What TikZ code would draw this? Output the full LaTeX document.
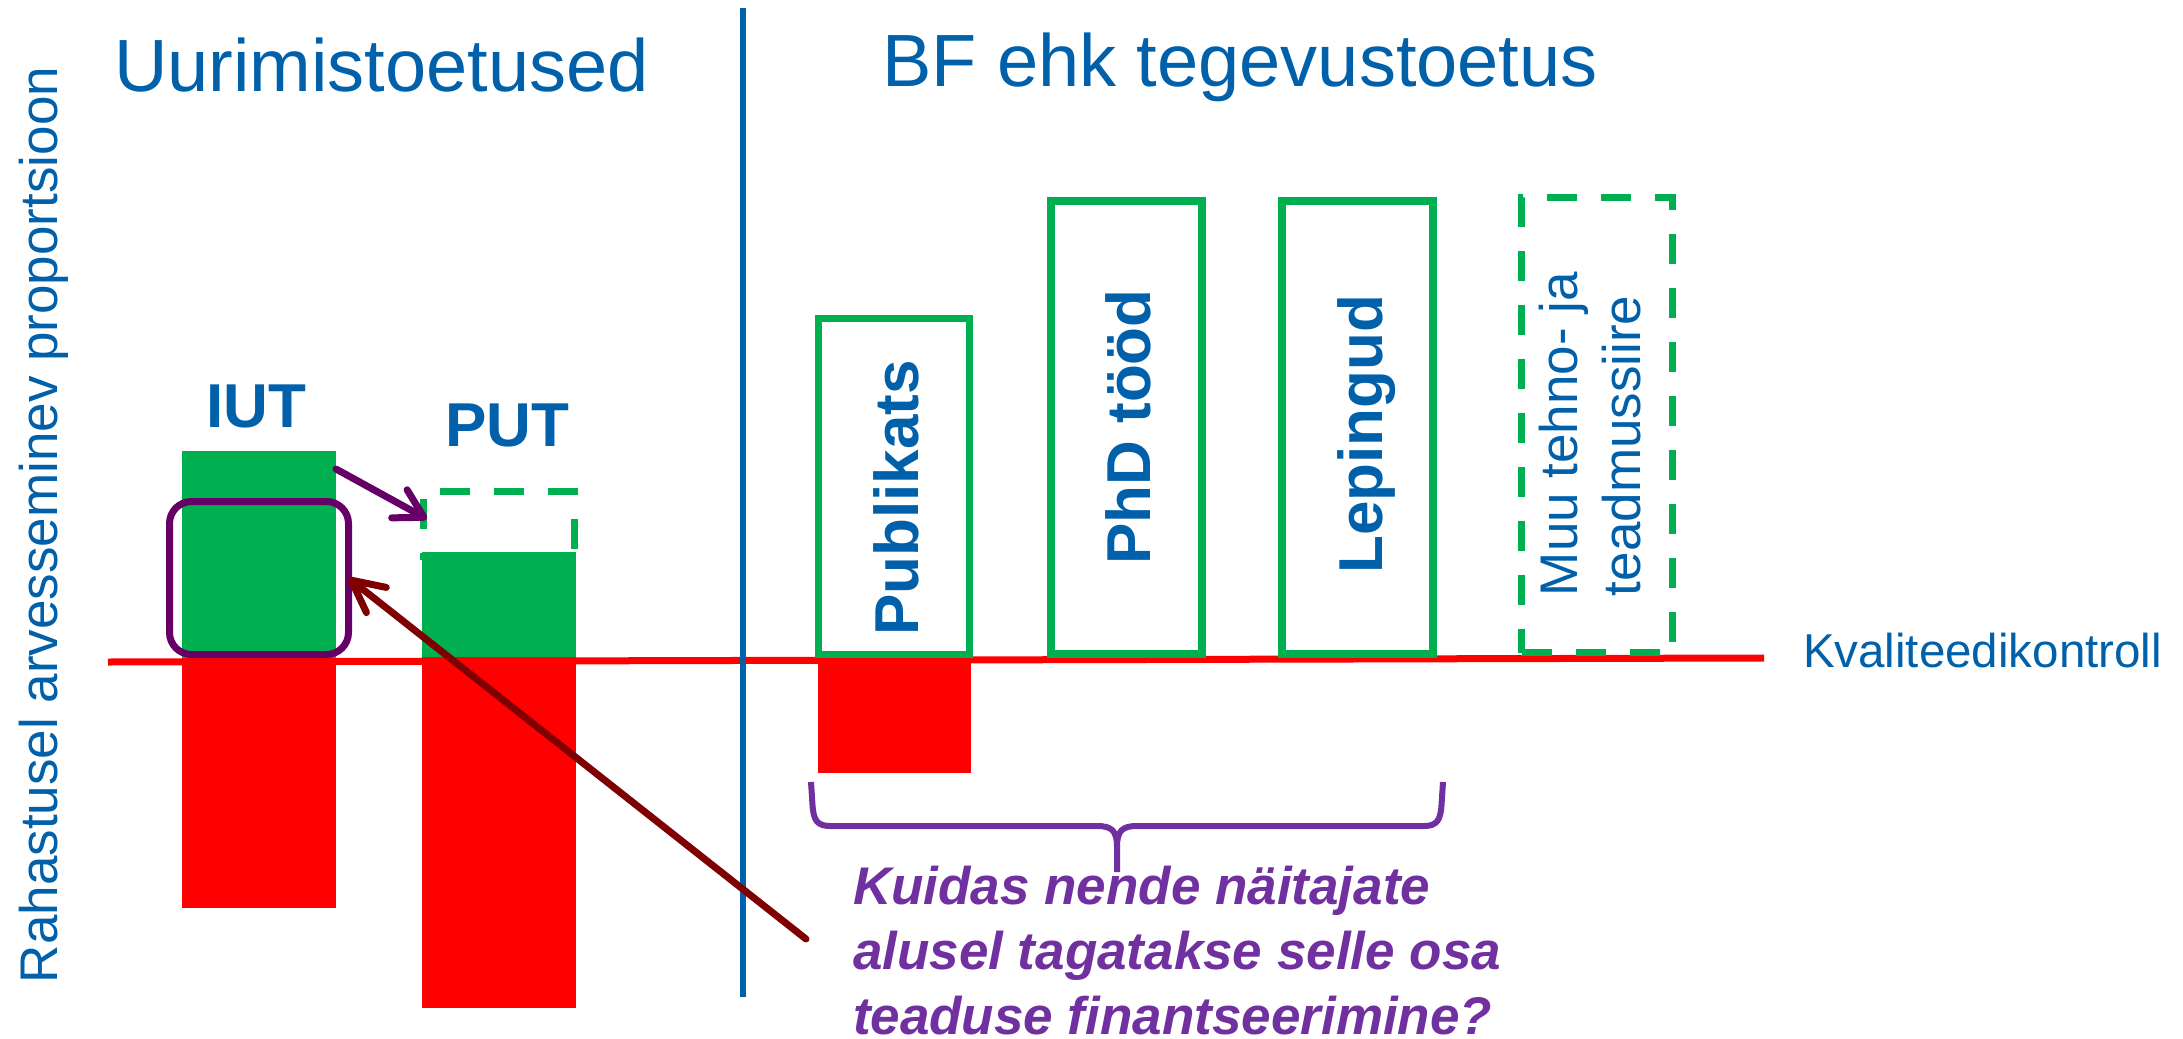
\documentclass[tikz,border=0pt]{standalone}
\usepackage{fontspec}
\setmainfont{Liberation Sans}
\usetikzlibrary{arrows.meta}
\definecolor{tblue}{RGB}{0,96,170}
\definecolor{lgreen}{RGB}{0,176,80}
\definecolor{bred}{RGB}{255,0,0}
\definecolor{dpurple}{RGB}{102,0,102}
\definecolor{qpurple}{RGB}{112,48,160}
\definecolor{dred}{RGB}{127,0,0}
\tikzset{
  every node/.style={inner sep=0pt, outer sep=0pt},
  titletxt/.style={text=tblue, font=\fontsize{74pt}{88pt}\selectfont},
  axistxt/.style={text=tblue, font=\fontsize{53pt}{64pt}\selectfont},
  bartxt/.style={text=tblue, font=\bfseries\fontsize{62pt}{74pt}\selectfont},
  kktxt/.style={text=tblue, font=\fontsize{47.5pt}{57pt}\selectfont},
  qtxt/.style={text=qpurple, font=\bfseries\itshape\fontsize{53pt}{65pt}\selectfont, align=left},
  greenbar/.style={fill=lgreen, minimum width=154pt},
  redbar/.style={fill=bred, minimum width=154pt},
  gbox/.style={draw=lgreen, line width=7.5pt, minimum width=151pt},
  dbox/.style={draw=lgreen, line width=7pt, dash pattern=on 30pt off 24pt},
  sepline/.style={draw=tblue, line width=5.5pt},
  qline/.style={draw=bred, line width=7pt},
  prect/.style={draw=dpurple, line width=7pt, rounded corners=22pt},
  parrow/.style={draw=dpurple, line width=7pt, line cap=round, -{Straight Barb[length=28pt,width=32pt,round]}},
  rarrow/.style={draw=dred, line width=7pt, line cap=round, -{Straight Barb[length=32pt,width=32pt,round]}},
  bracepath/.style={draw=qpurple, line width=6pt, line join=round},
}
\begin{document}
\begin{tikzpicture}[x=1pt,y=-1pt]
\useasboundingbox (0,0) rectangle (2183,1038);
\fill[white] (0,0) rectangle (2183,1038);

% titles and axis label
\node[titletxt, anchor=base west] (t1) at (114,92) {Uurimistoetused};
\node[titletxt, anchor=base west] (t2) at (882,87) {BF ehk tegevustoetus};
\node[axistxt, rotate=90, anchor=base west] (ylab) at (57,983) {Rahastusel arvesseminev proportsioon};

% quality control line
\coordinate (ql1) at (108,662);
\coordinate (ql2) at (1764,658);
\draw[qline] (ql1) -- (ql2);
\node[kktxt, anchor=base west] (kk) at (1803,667) {Kvaliteedikontroll};

% separator
\coordinate (sep1) at (743,8);
\coordinate (sep2) at (743,997);
\draw[sepline] (sep1) -- (sep2);

% PUT dashed target box (bottom hidden under bar)
\node[dbox, minimum width=151.5pt, minimum height=68pt] (putd) at (498.75,525.5) {};

% bars
\node[greenbar, minimum height=207pt] (iutg) at (259,554.5) {};
\node[redbar, minimum height=250pt] (iutr) at (259,783) {};
\node[greenbar, minimum height=105pt] (putg) at (499,604.5) {};
\node[redbar, minimum height=351pt] (putr) at (499,832.5) {};
\node[bartxt, anchor=base] (iutl) at (256,427) {IUT};
\node[bartxt, anchor=base] (putl) at (507,446) {PUT};

% BF boxes
\node[gbox, minimum height=336pt] (pubb) at (894,486.5) {};
\node[redbar, minimum width=153pt, minimum height=111pt] (pubr) at (894.5,717.5) {};
\node[gbox, minimum height=453pt] (phdb) at (1126.5,427.5) {};
\node[gbox, minimum height=453pt] (lepb) at (1357.5,427.5) {};
\node[dbox, minimum width=151pt, minimum height=455pt] (muub) at (1597,425) {};
\node[bartxt, rotate=90, anchor=base] (pubt) at (918,498) {Publikats};
\node[bartxt, rotate=90, anchor=base] (phdt) at (1150,427) {PhD tööd};
\node[bartxt, rotate=90, anchor=base] (lept) at (1382,434) {Lepingud};
\node[axistxt, rotate=90, anchor=base west] (muu1) at (1577,596) {Muu tehno- ja};
\node[axistxt, rotate=90, anchor=base west] (muu2) at (1640,596) {teadmussiire};

% purple frame and arrow
\node[prect, minimum width=179pt, minimum height=153pt] (pr) at (259,578) {};
\draw[parrow] ([yshift=-18pt]iutg.north east) -- ([shift={(4pt,-27.5pt)}]putd.north west);

% brace
\draw[bracepath] (811,782) -- (812.5,805) .. controls (813.5,820) and (817,826) .. (830,826)
  -- (1097,826) .. controls (1112,826) and (1117,831) .. (1117,847) -- (1117,872);
\draw[bracepath] (1443,782) -- (1441.5,805) .. controls (1440.5,820) and (1437,826) .. (1424,826)
  -- (1137,826) .. controls (1122,826) and (1117,831) .. (1117,847);

% question
\node[qtxt, anchor=north west] (q) at (853,866) {Kuidas nende näitajate\\alusel tagatakse selle osa\\teaduse finantseerimine?};
\coordinate (qa) at (806,939);
\draw[rarrow] (qa) -- (pr.east);
\end{tikzpicture}
\end{document}
